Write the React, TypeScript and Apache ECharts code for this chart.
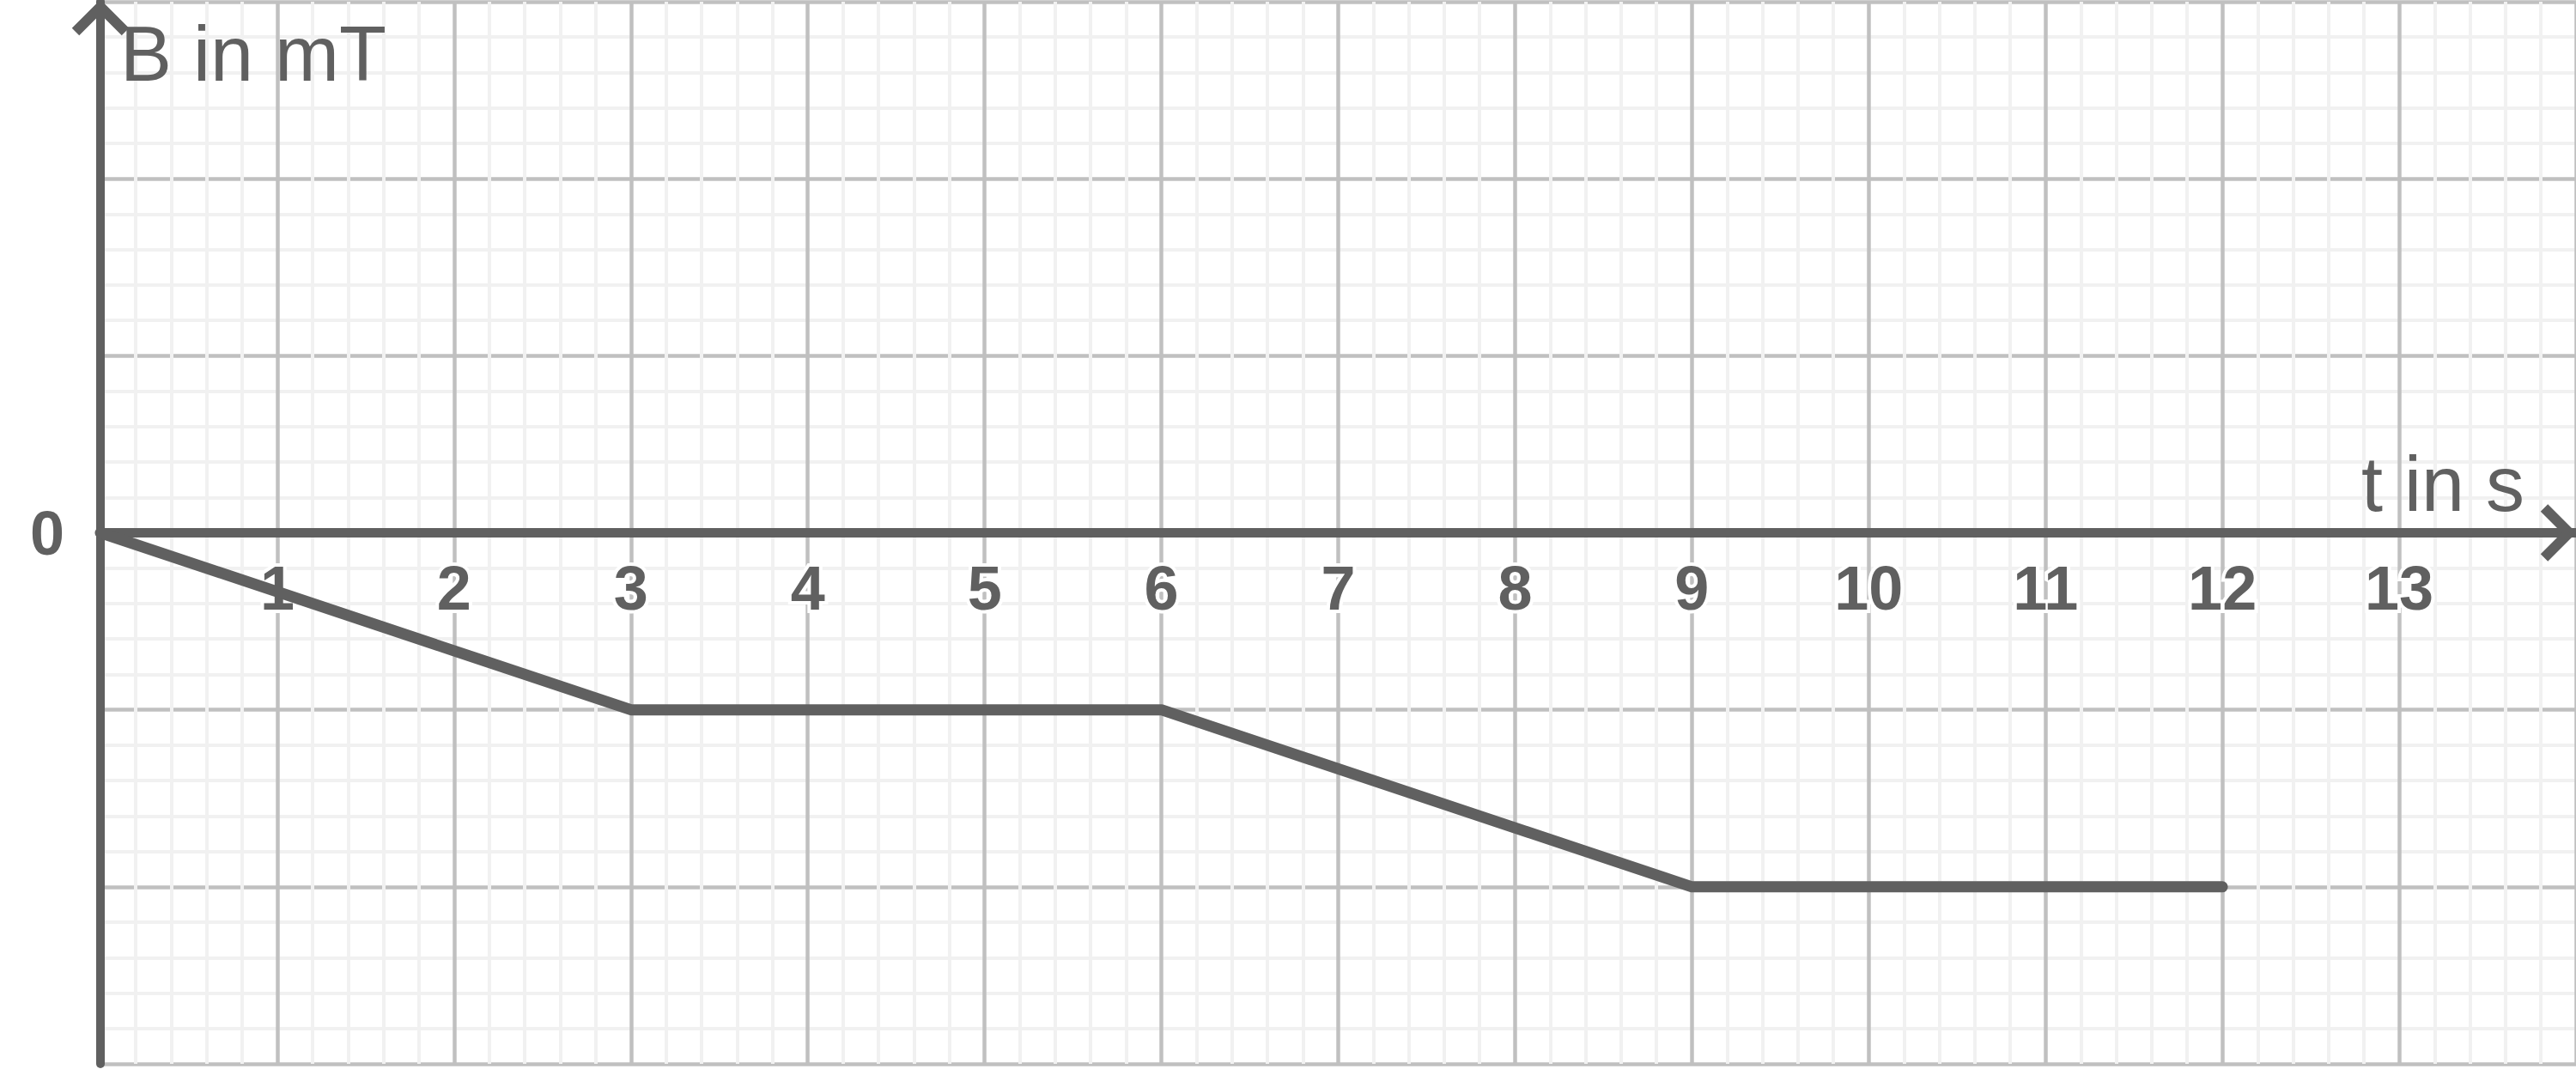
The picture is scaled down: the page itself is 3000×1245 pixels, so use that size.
import React, { useEffect, useRef } from 'react';
import * as echarts from 'echarts';

// B(t) curve (t in s, B in mT)
const tValues = [0, 3, 6, 9, 12];
const bValues = [0, -1, -1, -2, -2];

const xRange = [0, 14];
const yRange = [-3, 3];
const xTickLabels = ['1', '2', '3', '4', '5', '6', '7', '8', '9', '10', '11', '12', '13'];
const yTickLabels = ['0'];

const ink = '#606060';
const font = 'Liberation Sans, Arial, Helvetica, sans-serif';

export default function App() {
  const chartRef = useRef<HTMLDivElement>(null);

  useEffect(() => {
    if (!chartRef.current) return;
    document.body.style.margin = '0';

    const chart = echarts.init(chartRef.current, null, { renderer: 'svg' });

    const gridTop = 2;
    const gridBottom = 6;
    const plotHeight = 1245 - gridTop - gridBottom;
    // move the t axis up from the bottom edge to B = 0
    const zeroOffset = -plotHeight * (0 - yRange[0]) / (yRange[1] - yRange[0]);

    const tickLabel = {
      color: ink,
      fontFamily: font,
      fontWeight: 'bold' as const,
      fontSize: 72,
      textBorderColor: '#ffffff',
      textBorderWidth: 8
    };

    const option = {
      animation: false,
      backgroundColor: '#ffffff',
      grid: {
        left: 117,
        right: 0,
        top: gridTop,
        bottom: gridBottom,
        containLabel: false,
        outerBoundsMode: 'none'
      },
      xAxis: {
        type: 'value',
        min: xRange[0],
        max: xRange[1],
        interval: 1,
        position: 'bottom',
        offset: zeroOffset,
        name: 't in s',
        nameLocation: 'end',
        nameGap: -60,
        nameTextStyle: {
          color: ink,
          fontFamily: font,
          fontSize: 90,
          align: 'right',
          verticalAlign: 'bottom',
          padding: [0, 0, 12, 0]
        },
        axisLine: { onZero: false, lineStyle: { color: ink, width: 11 } },
        axisTick: { show: false },
        axisLabel: {
          ...tickLabel,
          margin: 28,
          formatter: (v: number) => (xTickLabels.includes(String(v)) ? String(v) : '')
        },
        splitLine: { show: true, lineStyle: { color: '#c0c0c0', width: 4.5 } },
        minorTick: { show: false, splitNumber: 5 },
        minorSplitLine: { show: true, lineStyle: { color: '#f1f1f1', width: 4 } }
      },
      yAxis: {
        type: 'value',
        min: yRange[0],
        max: yRange[1],
        interval: 1,
        name: 'B in mT',
        nameLocation: 'end',
        nameGap: -16,
        nameTextStyle: {
          color: ink,
          fontFamily: font,
          fontSize: 90,
          align: 'left',
          verticalAlign: 'top',
          padding: [0, 0, 0, 23]
        },
        axisLine: { onZero: false, lineStyle: { color: ink, width: 10 } },
        axisTick: { show: false },
        axisLabel: {
          ...tickLabel,
          margin: 42,
          formatter: (v: number) => (yTickLabels.includes(String(v)) ? String(v) : '')
        },
        splitLine: { show: true, lineStyle: { color: '#c0c0c0', width: 4.5 } },
        minorTick: { show: false, splitNumber: 5 },
        minorSplitLine: { show: true, lineStyle: { color: '#f1f1f1', width: 4 } }
      },
      series: [
        {
          type: 'line',
          data: tValues.map((t, i) => [t, bValues[i]]),
          showSymbol: false,
          symbol: 'none',
          lineStyle: { color: ink, width: 13, cap: 'round', join: 'round' },
          z: 5
        }
      ]
    };

    chart.setOption(option);

    // open chevron arrow heads at the ends of both axes
    const xEnd = chart.convertToPixel({ gridIndex: 0 }, [xRange[1], 0]) as number[];
    const yEnd = chart.convertToPixel({ gridIndex: 0 }, [0, yRange[1]]) as number[];
    const xTip = [xEnd[0] - 8, xEnd[1]];
    const yTip = [yEnd[0], yEnd[1] + 6];
    const arm = 29;
    chart.setOption({
      graphic: [
        {
          type: 'polyline',
          z: 100,
          shape: {
            points: [
              [xTip[0] - arm, xTip[1] - arm],
              xTip,
              [xTip[0] - arm, xTip[1] + arm]
            ]
          },
          style: { stroke: ink, lineWidth: 12, fill: 'none' }
        },
        {
          type: 'polyline',
          z: 100,
          shape: {
            points: [
              [yTip[0] - arm, yTip[1] + arm],
              yTip,
              [yTip[0] + arm, yTip[1] + arm]
            ]
          },
          style: { stroke: ink, lineWidth: 12, fill: 'none' }
        }
      ]
    });

    return () => {
      chart.dispose();
    };
  }, []);

  return <div ref={chartRef} style={{ width: '3000px', height: '1245px' }} />;
}
